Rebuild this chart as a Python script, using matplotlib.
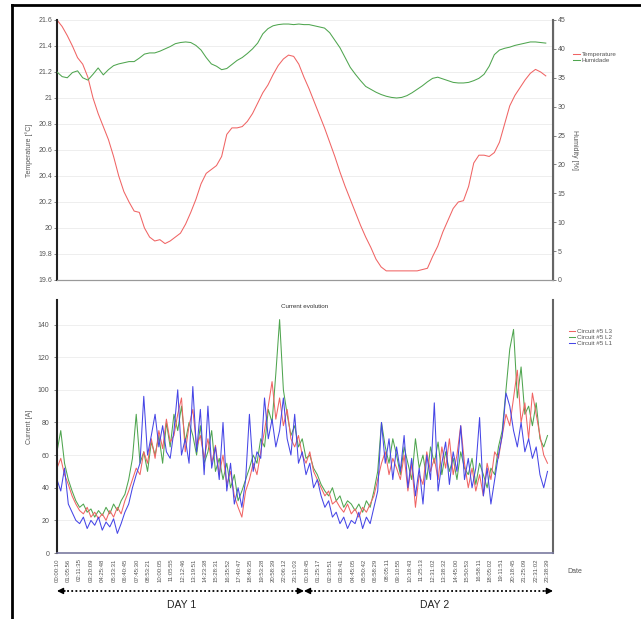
import matplotlib.pyplot as plt
from matplotlib import transforms
from matplotlib.lines import Line2D
import numpy as np

plt.rcParams['font.family'] = ['Liberation Sans', 'DejaVu Sans']

# time labels on the x axis (two days of logging)
time_labels = ['00:00:10', '01:05:56', '02:11:35', '03:20:09', '04:25:48', '05:33:31',
               '06:40:45', '07:45:30', '08:53:21', '10:00:05', '11:05:55', '12:12:46',
               '13:19:51', '14:23:38', '15:28:31', '16:35:52', '17:40:47', '18:46:35',
               '19:53:28', '20:58:39', '22:06:12', '23:11:03', '00:18:45', '01:25:17',
               '02:30:51', '03:38:41', '04:45:05', '05:50:42', '06:58:29', '08:05:11',
               '09:10:55', '10:18:43', '11:25:13', '12:31:02', '13:38:32', '14:45:00',
               '15:50:53', '16:58:11', '18:05:02', '19:11:51', '20:18:45', '21:25:09',
               '22:31:02', '23:38:39']

# every 30 min
temperature = [21.60, 21.55, 21.48, 21.40, 21.31, 21.26, 21.16, 21.00, 20.88, 20.78,
               20.68, 20.55, 20.40, 20.28, 20.20, 20.13, 20.12, 20.00, 19.93, 19.90,
               19.91, 19.88, 19.90, 19.93, 19.96, 20.03, 20.12, 20.22, 20.34, 20.42,
               20.45, 20.48, 20.55, 20.72, 20.77, 20.77, 20.78, 20.82, 20.88, 20.96,
               21.04, 21.10, 21.18, 21.25, 21.30, 21.33, 21.32, 21.26, 21.16, 21.07,
               20.97, 20.87, 20.77, 20.66, 20.55, 20.43, 20.32, 20.22, 20.12, 20.02,
               19.93, 19.85, 19.76, 19.70, 19.67, 19.67, 19.67, 19.67, 19.67, 19.67,
               19.67, 19.68, 19.69, 19.78, 19.86, 19.97, 20.06, 20.15, 20.20, 20.21,
               20.32, 20.50, 20.56, 20.56, 20.55, 20.58, 20.66, 20.80, 20.94, 21.02,
               21.08, 21.14, 21.19, 21.22, 21.20, 21.17]
humidity = [36.0, 35.2, 35.0, 35.9, 36.2, 35.0, 34.6, 35.6, 36.7, 35.5,
            36.4, 37.1, 37.4, 37.6, 37.8, 37.8, 38.4, 39.1, 39.3, 39.3,
            39.6, 40.0, 40.4, 40.9, 41.1, 41.2, 41.1, 40.6, 39.8, 38.5,
            37.4, 37.0, 36.4, 36.6, 37.3, 38.0, 38.5, 39.2, 40.0, 41.0,
            42.6, 43.5, 44.0, 44.2, 44.3, 44.3, 44.2, 44.3, 44.2, 44.2,
            44.0, 43.8, 43.6, 42.8, 41.5, 40.2, 38.5, 36.8, 35.6, 34.5,
            33.5, 33.0, 32.5, 32.1, 31.8, 31.6, 31.5, 31.6, 31.9, 32.4,
            33.0, 33.6, 34.3, 34.9, 35.1, 34.8, 34.5, 34.2, 34.1, 34.1,
            34.2, 34.5, 34.9, 35.6, 37.0, 39.0, 39.8, 40.1, 40.3, 40.6,
            40.8, 41.0, 41.2, 41.2, 41.1, 41.0]

# every 22 min
current_l3 = [52, 58, 48, 42, 35, 30, 26, 24, 28, 22,
              25, 21, 24, 20, 26, 22, 28, 24, 32, 38,
              45, 52, 48, 62, 55, 70, 58, 75, 64, 82,
              68, 72, 85, 95, 62, 78, 88, 65, 72, 58,
              70, 55, 66, 48, 60, 42, 50, 35, 28, 22,
              38, 45, 55, 48, 62, 75, 90, 105, 82, 95,
              78, 88, 70, 65, 72, 60, 55, 62, 50, 45,
              40, 35, 38, 30, 32, 28, 25, 30, 24, 27,
              22, 28, 25, 30, 35, 45, 55, 62, 48, 58,
              52, 45, 60, 38, 55, 28, 48, 42, 62, 50,
              58, 45, 65, 52, 70, 48, 60, 78, 55, 40,
              52, 38, 48, 35, 55, 45, 62, 58, 72, 85,
              78, 95, 112, 80, 92, 70, 98, 85, 72, 60, 55]
current_l2 = [62, 75, 55, 45, 38, 32, 28, 30, 25, 27,
              22, 26, 23, 28, 24, 30, 26, 32, 36, 45,
              58, 85, 55, 62, 50, 68, 60, 72, 55, 80,
              65, 85, 75, 90, 68, 80, 72, 60, 78, 55,
              62, 75, 50, 58, 45, 55, 40, 48, 32, 38,
              45, 52, 60, 55, 70, 65, 88, 80, 110, 143,
              100, 85, 72, 78, 65, 70, 58, 60, 52, 48,
              42, 38, 35, 40, 32, 35, 28, 32, 30, 26,
              30, 25, 32, 28, 38, 50, 80, 65, 55, 70,
              60, 48, 65, 55, 45, 70, 52, 60, 45, 65,
              55, 68, 48, 62, 50, 58, 45, 62, 52, 48,
              58, 42, 55, 48, 40, 52, 48, 65, 75, 100,
              125, 137, 95, 114, 85, 90, 78, 92, 70, 65, 72]
current_l1 = [45, 38, 52, 30, 25, 20, 18, 22, 15, 20,
              17, 22, 14, 19, 16, 21, 12, 18, 25, 30,
              40, 48, 55, 96, 60, 72, 85, 65, 78, 62,
              58, 75, 100, 60, 70, 55, 102, 62, 88, 48,
              90, 52, 65, 45, 80, 38, 55, 30, 40, 28,
              45, 85, 50, 62, 58, 95, 70, 82, 65, 75,
              95, 70, 60, 85, 55, 62, 48, 55, 40, 45,
              35, 28, 32, 22, 25, 18, 22, 15, 20, 18,
              25, 15, 22, 18, 28, 38, 80, 55, 70, 45,
              65, 50, 72, 40, 58, 35, 52, 30, 60, 45,
              92, 38, 55, 68, 42, 62, 50, 78, 45, 58,
              40, 52, 83, 35, 52, 30, 45, 60, 72, 98,
              90, 75, 65, 80, 62, 70, 58, 65, 48, 40, 50]


def to_hours(labels):
    out, offset, prev = [], 0, -1
    for s in labels:
        h, m, sec = (int(v) for v in s.split(':'))
        t = h + m / 60 + sec / 3600
        if t < prev:
            offset += 24
        prev = t
        out.append(t + offset)
    return out


tick_pos = to_hours(time_labels)
t_env = np.arange(len(temperature)) * 0.5
t_cur = np.arange(len(current_l1)) * 22 / 60
x_max = 48.2

red, green, blue = '#f06464', '#4fa54f', '#4646e6'
lab_col = '#555555'

fig = plt.figure(figsize=(6.41, 6.19), dpi=100)
ax1 = fig.add_axes([0.0889, 0.5477, 0.7738, 0.42])
ax2 = ax1.twinx()
ax3 = fig.add_axes([0.0889, 0.1066, 0.7738, 0.4087])

# --- top chart: temperature / humidity
l_t, = ax1.plot(t_env, temperature, color=red, lw=0.75, clip_on=False)
l_h, = ax2.plot(t_env, humidity, color=green, lw=0.75)
ax1.set_xlim(0, x_max)
ax1.set_ylim(19.6, 21.6)
ax1.set_yticks(np.arange(19.6, 21.61, 0.2))
ax1.set_yticklabels(['19.6', '19.8', '20', '20.2', '20.4', '20.6', '20.8', '21', '21.2', '21.4', '21.6'])
ax2.set_ylim(0, 45)
ax2.set_yticks(range(0, 46, 5))
ax1.set_xticks([])
ax1.grid(axis='y', color='#ebebeb', lw=0.6)
ax1.set_axisbelow(True)
ax1.set_ylabel('Temperature [°C]', fontsize=5, color=lab_col)
ax1.yaxis.set_label_coords(-0.048, 0.5)
ax2.set_ylabel('Humidity [%]', fontsize=5, color=lab_col, rotation=270, va='center')
ax2.yaxis.set_label_coords(1.044, 0.5)
for a in (ax1, ax2):
    a.tick_params(labelsize=5, colors=lab_col, length=2, width=0.5, pad=1.5)
    a.spines['top'].set_visible(False)
ax1.spines['left'].set_color('#222222')
ax1.spines['left'].set_linewidth(1.5)
ax2.spines['right'].set_color('#666666')
ax2.spines['right'].set_linewidth(1.5)
ax2.spines['left'].set_visible(False)
for a in (ax1, ax2):
    a.spines['bottom'].set_color('#999999')
    a.spines['bottom'].set_linewidth(0.8)
ax1.legend([l_t, l_h], ['Temperature', 'Humidade'], loc='upper left',
           bbox_to_anchor=(1.03, 0.9), frameon=False, fontsize=4.5,
           handlelength=1.0, handletextpad=0.3, labelspacing=0.15,
           labelcolor=lab_col)

# --- bottom chart: currents
ax3.plot(t_cur, current_l2, color=green, lw=0.75, label='Circuit #5 L2')
ax3.plot(t_cur, current_l3, color=red, lw=0.75, label='Circuit #5 L3')
ax3.plot(t_cur, current_l1, color=blue, lw=0.75, label='Circuit #5 L1')
ax3.set_xlim(0, x_max)
ax3.set_ylim(0, 155)
ax3.set_yticks(range(0, 141, 20))
ax3.set_xticks(tick_pos)
ax3.set_xticklabels(time_labels, rotation=90)
ax3.tick_params(axis='x', labelsize=4.3, colors=lab_col, length=0, pad=4)
ax3.tick_params(axis='y', labelsize=5, colors=lab_col, length=2, width=0.5)
ax3.grid(axis='y', color='#ececec', lw=0.6)
ax3.set_axisbelow(True)
ax3.set_ylabel('Current [A]', fontsize=5, color=lab_col)
ax3.yaxis.set_label_coords(-0.048, 0.5)
ax3.text(0.5, 0.985, 'Current evolution', transform=ax3.transAxes,
         ha='center', va='top', fontsize=4.5, color='#333333')
ax3.text(1.028, -0.075, 'Date', transform=ax3.transAxes, ha='left',
         va='center', fontsize=5, color=lab_col)
ax3.spines['top'].set_visible(False)
ax3.spines['left'].set_color('#222222')
ax3.spines['left'].set_linewidth(1.5)
ax3.spines['right'].set_color('#666666')
ax3.spines['right'].set_linewidth(1.5)
ax3.spines['bottom'].set_color('#7a7aa0')
ax3.spines['bottom'].set_linewidth(1.2)
h, l = ax3.get_legend_handles_labels()
order = [1, 0, 2]
ax3.legend([h[i] for i in order], [l[i] for i in order], loc='upper left',
           bbox_to_anchor=(1.02, 0.91), frameon=False, fontsize=4.5,
           handlelength=1.0, handletextpad=0.3, labelspacing=0.15,
           labelcolor=lab_col)

# --- day arrows under the axis
trans = transforms.blended_transform_factory(ax3.transData, ax3.transAxes)
ya = -0.150
for x0, x1, name, xc in [(0, 24, 'DAY 1', 12.1), (24, x_max, 'DAY 2', 36.7)]:
    ax3.plot([x0 + 0.6, x1 - 0.6], [ya, ya], transform=trans, color='k',
             lw=1.3, ls=(0, (1, 1.3)), clip_on=False)
    for tip, tail in [(x0, x0 + 0.8), (x1, x1 - 0.8)]:
        ax3.annotate('', xy=(tip, ya), xytext=(tail, ya), xycoords=trans,
                     textcoords=trans,
                     arrowprops=dict(arrowstyle='-|>', color='k', lw=1.0,
                                     mutation_scale=9, shrinkA=0, shrinkB=0))
    ax3.text(xc, -0.205, name, transform=trans, ha='center', va='center',
             fontsize=7.5, color='#222222')

# outer frame of the screenshot
fig.add_artist(Line2D([12 / 641, 12 / 641], [0, 1 - 5 / 619], color='k', lw=2,
                      transform=fig.transFigure))
fig.add_artist(Line2D([12 / 641, 1], [1 - 5 / 619, 1 - 5 / 619], color='k', lw=2,
                      transform=fig.transFigure))

fig.savefig('out.png', dpi=100)
